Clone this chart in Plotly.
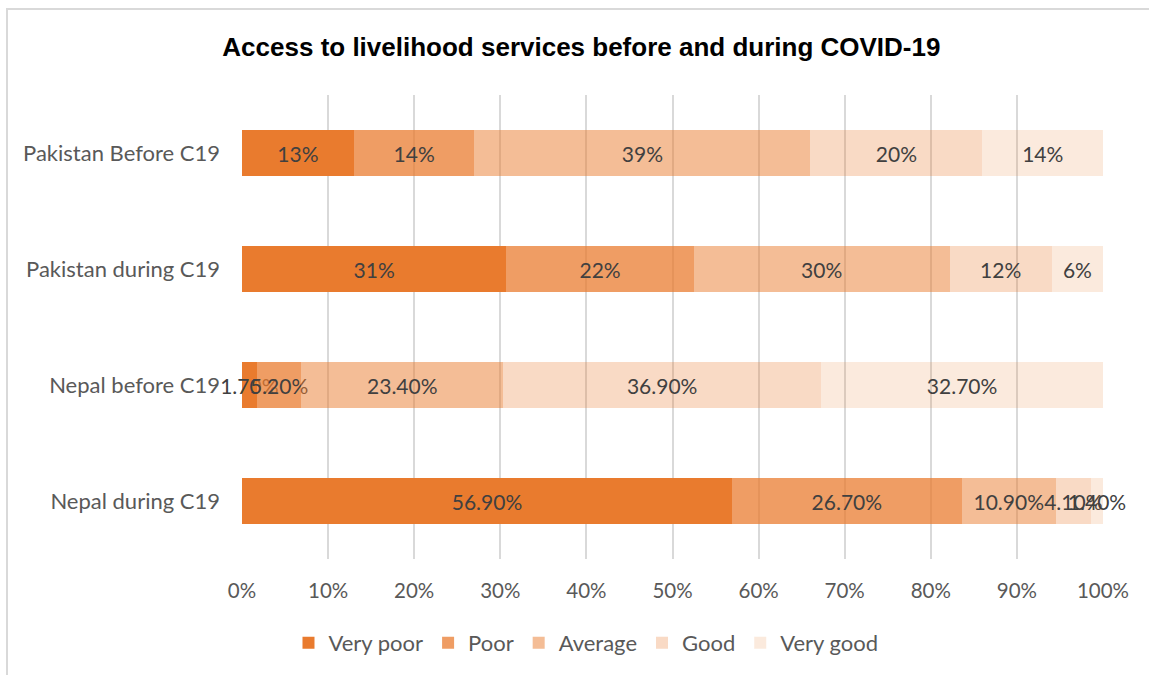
import plotly.graph_objects as go

# Survey categories, top to bottom
categories = ["Pakistan Before C19", "Pakistan during C19", "Nepal before C19", "Nepal during C19"]

# Ratings (stack order left to right)
ratings = ["Very poor", "Poor", "Average", "Good", "Very good"]

# Percent share of each rating per category
very_poor = [13, 31, 1.7, 56.9]
poor = [14, 22, 5.2, 26.7]
average = [39, 30, 23.4, 10.9]
good = [20, 12, 36.9, 4.1]
very_good = [14, 6, 32.7, 1.4]

# Pakistan labels are whole percents, Nepal labels carry two decimals
label_formats = ["{:.0f}%", "{:.0f}%", "{:.2f}%", "{:.2f}%"]

series = [very_poor, poor, average, good, very_good]
colors = [
    "rgba(233,123,46,1.0)",
    "rgba(233,123,46,0.74)",
    "rgba(233,123,46,0.50)",
    "rgba(233,123,46,0.28)",
    "rgba(233,123,46,0.16)",
]

FONT = "Lato, sans-serif"

fig = go.Figure()
for name, vals, col in zip(ratings, series, colors):
    labels = [fmt.format(v) for fmt, v in zip(label_formats, vals)]
    fig.add_trace(go.Bar(
        y=categories,
        x=vals,
        name=name,
        orientation="h",
        marker=dict(color=col, line=dict(width=0)),
        text=labels,
        textposition="inside",
        insidetextanchor="middle",
        textangle=0,
        constraintext="none",
        textfont=dict(family=FONT, size=21, color="#404040"),
        cliponaxis=False,
        hoverinfo="skip",
    ))

fig.update_layout(
    barmode="stack",
    barnorm="percent",
    bargap=0.6,
    width=1149,
    height=675,
    margin=dict(l=242, r=46, t=95, b=116),
    paper_bgcolor="white",
    plot_bgcolor="rgba(0,0,0,0)",
    uniformtext=dict(mode=False),
    title=dict(
        text="<b>Access to livelihood services before and during COVID-19</b>",
        font=dict(family="Liberation Sans, Arial, sans-serif", size=26, color="#000000"),
        xref="container", x=0.506, xanchor="center",
        yref="container", y=1 - 47 / 675, yanchor="middle",
    ),
    legend=dict(
        orientation="h",
        traceorder="normal",
        xref="container", x=0.51, xanchor="center",
        yref="container", y=1 - 643 / 675, yanchor="middle",
        font=dict(family=FONT, size=22, color="#595959"),
    ),
    xaxis=dict(
        range=[0, 100],
        tickvals=[0, 10, 20, 30, 40, 50, 60, 70, 80, 90, 100],
        ticktext=["0%", "10%", "20%", "30%", "40%", "50%", "60%", "70%", "80%", "90%", "100%"],
        showgrid=True,
        gridcolor="#D9D9D9",
        gridwidth=1.5,
        zeroline=False,
        showline=False,
        ticks="",
        ticklabelstandoff=17,
        tickfont=dict(family=FONT, size=20.5, color="#595959"),
        layer="below traces",
    ),
    yaxis=dict(
        categoryorder="array",
        categoryarray=categories,
        autorange="reversed",
        showgrid=False,
        zeroline=False,
        showline=False,
        ticks="",
        ticklabelstandoff=21,
        tickfont=dict(family=FONT, size=22, color="#595959"),
    ),
    shapes=[
        # light frame around the chart area
        dict(
            type="rect", xref="paper", yref="paper",
            x0=(7 - 242) / 861, x1=(1160 - 242) / 861,
            y0=(559 - 690) / 464, y1=1 + (95 - 9) / 464,
            line=dict(color="#D9D9D9", width=2),
            fillcolor="rgba(0,0,0,0)",
            layer="below",
        ),
    ],
)

fig.write_html("out.html")
